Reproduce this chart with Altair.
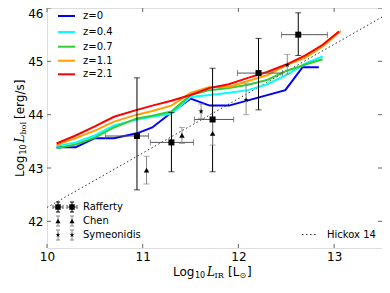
import altair as alt
import pandas as pd

# ---------------- data ----------------
z_labels = ["z=0", "z=0.4", "z=0.7", "z=1.1", "z=2.1"]
z_colors = ["#0000ff", "#00ffff", "#33cc33", "#ffa000", "#ff0000"]

z0_x = [10.1, 10.3, 10.5, 10.7, 10.94, 11.1, 11.3, 11.5, 11.7, 11.9, 12.49, 12.67, 12.84]
z0_y = [43.39, 43.39, 43.56, 43.56, 43.65, 43.76, 44.04, 44.30, 44.17, 44.17, 44.46, 44.89, 44.89]

z04_x = [10.1, 10.3, 10.5, 10.7, 10.94, 11.1, 11.3, 11.5, 11.7, 11.9, 12.1, 12.3, 12.5, 12.7, 12.88]
z04_y = [43.41, 43.48, 43.61, 43.80, 43.91, 43.96, 44.02, 44.33, 44.37, 44.41, 44.46, 44.57, 44.74, 44.96, 45.09]

z07_x = [10.1, 10.3, 10.5, 10.7, 10.94, 11.1, 11.3, 11.5, 11.7, 11.9, 12.1, 12.3, 12.5, 12.7, 12.88]
z07_y = [43.37, 43.44, 43.57, 43.76, 43.93, 43.98, 44.06, 44.37, 44.46, 44.50, 44.56, 44.65, 44.82, 44.94, 45.04]

z11_x = [10.1, 10.3, 10.5, 10.7, 10.94, 11.1, 11.3, 11.5, 11.7, 11.9, 12.1, 12.3, 12.5, 12.7, 12.88, 13.07]
z11_y = [43.43, 43.56, 43.70, 43.87, 44.00, 44.07, 44.17, 44.41, 44.52, 44.52, 44.63, 44.74, 44.93, 45.07, 45.28, 45.57]

z21_x = [10.1, 10.3, 10.5, 10.7, 10.94, 11.1, 11.3, 11.5, 11.7, 11.9, 12.1, 12.3, 12.5, 12.7, 12.88, 13.05]
z21_y = [43.46, 43.61, 43.78, 43.96, 44.09, 44.17, 44.26, 44.37, 44.50, 44.57, 44.69, 44.80, 44.94, 45.11, 45.31, 45.56]

raf_x = [10.94, 11.30, 11.73, 12.21, 12.625]
raf_y = [43.60, 43.48, 43.91, 44.78, 45.50]
raf_xlo = [10.61, 11.08, 11.54, 11.99, 12.45]
raf_xhi = [11.06, 11.53, 11.95, 12.46, 12.93]
raf_ylo = [42.59, 42.93, 42.93, 44.09, 45.11]
raf_yhi = [44.69, 44.04, 44.87, 45.43, 45.91]

chen_x = [11.04, 11.41, 11.73]
chen_y = [42.96, 43.61, 43.65]
chen_ylo = [42.70, 43.46, 43.43]
chen_yhi = [43.22, 43.76, 43.87]

sym_x = [11.61, 12.08, 12.51]
sym_y = [44.06, 44.28, 44.93]
sym_ylo = [43.93, 44.00, 44.76]
sym_yhi = [44.20, 44.59, 45.13]

hick_x = [10.0, 13.5]
hick_y = [42.26, 45.83]

x_ticks = [10, 11, 12, 13]
y_ticks = [42, 43, 44, 45, 46]

# ---------------- frames ----------------
W, H = 335, 240
rows = []
for lab, xs_, ys_ in zip(z_labels, [z0_x, z04_x, z07_x, z11_x, z21_x],
                         [z0_y, z04_y, z07_y, z11_y, z21_y]):
    for i, (a, b) in enumerate(zip(xs_, ys_)):
        rows.append({"z": lab, "x": a, "y": b, "i": i})
df_lines = pd.DataFrame(rows)
df_raf = pd.DataFrame({"x": raf_x, "y": raf_y, "xlo": raf_xlo, "xhi": raf_xhi,
                       "ylo": raf_ylo, "yhi": raf_yhi})
df_chen = pd.DataFrame({"x": chen_x, "y": chen_y, "ylo": chen_ylo, "yhi": chen_yhi})
df_sym = pd.DataFrame({"x": sym_x, "y": sym_y, "ylo": sym_ylo, "yhi": sym_yhi})
df_hick = pd.DataFrame({"x": hick_x, "y": hick_y})
df_xt = pd.DataFrame({"t": x_ticks})
df_yt = pd.DataFrame({"t": y_ticks})
one = pd.DataFrame({"k": [0]})

STAR = ("M0,-1L0.224,-0.309L0.951,-0.309L0.362,0.118L0.588,0.809L0,0.382"
        "L-0.588,0.809L-0.362,0.118L-0.951,-0.309L-0.224,-0.309Z")

xs = alt.Scale(domain=[10, 13.5], nice=False, zero=False)
ys = alt.Scale(domain=[41.5, 46], nice=False, zero=False)
xaxis = alt.Axis(values=x_ticks, ticks=False, domain=False, grid=False, labelFontSize=12,
                 labelFont="DejaVu Sans", labelColor="black", labelPadding=3,
                 labelFlush=False, format="d", title=None)
yaxis = alt.Axis(values=y_ticks, ticks=False, domain=False, grid=False, labelFontSize=12,
                 labelFont="DejaVu Sans", labelColor="black", labelPadding=4,
                 labelFlush=True, format="d", title=None)


def X(f):
    return alt.X(f + ":Q", scale=xs, axis=xaxis)


def Y(f):
    return alt.Y(f + ":Q", scale=ys, axis=yaxis)


layers = []
# Hickox relation
layers.append(alt.Chart(df_hick).mark_line(color="#333333", strokeWidth=1,
                                            strokeDash=[1.5, 2.5]).encode(x=X("x"), y=Y("y")))
# model lines
layers.append(alt.Chart(df_lines).mark_line(strokeWidth=2, clip=True).encode(
    x=X("x"), y=Y("y"),
    color=alt.Color("z:N", scale=alt.Scale(domain=z_labels, range=z_colors), legend=None),
    order="i:Q"))


def vbars(df, color, cap=6):
    return [
        alt.Chart(df).mark_rule(color=color, strokeWidth=1).encode(x=X("x"), y=Y("ylo"), y2=alt.Y2("yhi")),
        alt.Chart(df).mark_tick(orient="horizontal", size=cap, thickness=1, color=color).encode(x=X("x"), y=Y("ylo")),
        alt.Chart(df).mark_tick(orient="horizontal", size=cap, thickness=1, color=color).encode(x=X("x"), y=Y("yhi")),
    ]


layers += vbars(df_raf, "black")
layers += [
    alt.Chart(df_raf).mark_rule(color="#555555", strokeWidth=1).encode(x=X("xlo"), x2=alt.X2("xhi"), y=Y("y")),
    alt.Chart(df_raf).mark_tick(orient="vertical", size=6, thickness=1, color="#555555").encode(x=X("xlo"), y=Y("y")),
    alt.Chart(df_raf).mark_tick(orient="vertical", size=6, thickness=1, color="#555555").encode(x=X("xhi"), y=Y("y")),
]
layers += vbars(df_chen, "#888888")
layers += vbars(df_sym, "#888888")
layers.append(alt.Chart(df_raf).mark_point(shape="square", filled=True, size=36, color="black",
                                           opacity=1).encode(x=X("x"), y=Y("y")))
layers.append(alt.Chart(df_chen).mark_point(shape="triangle-up", filled=True, size=30, color="black",
                                            opacity=1).encode(x=X("x"), y=Y("y")))
layers.append(alt.Chart(df_sym).mark_point(shape=STAR, filled=True, size=30, color="black",
                                           opacity=1).encode(x=X("x"), y=Y("y")))

# inward ticks on all four sides
TC = "#666666"
TL = 4
layers.append(alt.Chart(df_xt).mark_rule(color=TC).encode(x=X("t"), y=alt.value(H), y2=alt.value(H - TL)))
layers.append(alt.Chart(df_xt).mark_rule(color=TC).encode(x=X("t"), y=alt.value(0), y2=alt.value(TL)))
layers.append(alt.Chart(df_yt).mark_rule(color=TC).encode(y=Y("t"), x=alt.value(0), x2=alt.value(TL)))
layers.append(alt.Chart(df_yt).mark_rule(color=TC).encode(y=Y("t"), x=alt.value(W), x2=alt.value(W - TL)))


# ---------------- helpers for legend / titles ----------------
def txt(s, x, y, size=12, font="DejaVu Sans", style="normal", angle=0):
    return alt.Chart(one).mark_text(text=s, fontSize=size, font=font, fontStyle=style, angle=angle,
                                    align="left", baseline="middle", color="black").encode(
        x=alt.value(x), y=alt.value(y))


def hseg(x1, x2, y, color, w=1, dash=None):
    kw = dict(color=color, strokeWidth=w)
    if dash:
        kw["strokeDash"] = dash
    return alt.Chart(one).mark_rule(**kw).encode(x=alt.value(x1), x2=alt.value(x2), y=alt.value(y))


def vseg(x, y1, y2, color, w=1):
    return alt.Chart(one).mark_rule(color=color, strokeWidth=w).encode(
        x=alt.value(x), y=alt.value(y1), y2=alt.value(y2))


def pt(x, y, shape, size):
    return alt.Chart(one).mark_point(shape=shape, filled=True, size=size, color="black",
                                     opacity=1).encode(x=alt.value(x), y=alt.value(y))


# line legend (top-left)
leg_y = [8, 24, 38.7, 52.7, 66.3]
for lab, col, yy in zip(z_labels, z_colors, leg_y):
    layers.append(hseg(11, 28, yy, col, 2))
    layers.append(txt(lab, 36, yy, size=10))

# data legend (bottom-left)
for px in [11, 25]:
    yy = 199
    layers += [hseg(px - 5, px + 5, yy, "#555555"), vseg(px - 5, yy - 2, yy + 2, "#555555"),
               vseg(px + 5, yy - 2, yy + 2, "#555555"), vseg(px, yy - 5, yy + 5, "black"),
               hseg(px - 2, px + 2, yy - 5, "black"), hseg(px - 2, px + 2, yy + 5, "black"),
               pt(px, yy, "square", 30)]
    for yy, shp in [(213, "triangle-up"), (227, STAR)]:
        layers += [vseg(px, yy - 5, yy + 5, "#888888"), hseg(px - 2, px + 2, yy - 5, "#888888"),
                   hseg(px - 2, px + 2, yy + 5, "#888888"), pt(px, yy, shp, 26)]
layers.append(txt("Rafferty", 36, 199, size=10))
layers.append(txt("Chen", 36, 213, size=10))
layers.append(txt("Symeonidis", 36, 227, size=10))

# Hickox legend (bottom-right)
layers.append(hseg(255, 269, 226.5, "#333333", 1, [1.5, 2.5]))
layers.append(txt("Hickox 14", 280, 226.5, size=10))

# x title: Log10 L_IR [L_sun]
TY = 264
layers += [
    txt("Log", 126, TY),
    txt("10", 148, TY + 4, size=8),
    txt("L", 160, TY, font="DejaVu Serif", style="italic"),
    txt("IR", 167.5, TY + 4, size=8, font="DejaVu Serif"),
    txt("[L", 181, TY),
    txt("\u2299", 192.5, TY + 4, size=8),
    txt("]", 200, TY),
]
# y title: Log10 L_bol [erg/s]
TX = -27
layers += [
    txt("Log", TX, 169, angle=270),
    txt("10", TX + 4, 146.5, size=8, angle=270),
    txt("L", TX, 134.5, font="DejaVu Serif", style="italic", angle=270),
    txt("bol", TX + 4, 126.5, size=8, font="DejaVu Serif", angle=270),
    txt("[erg/s]", TX, 111, angle=270),
]

chart = alt.layer(*layers).properties(
    width=W, height=H,
    autosize=alt.AutoSizeParams(type="none"),
    padding={"left": 39, "top": 0, "right": 0, "bottom": 37},
).configure_view(stroke="#666666", strokeWidth=1.2).configure(background="white")

chart.save("out.html", embed_options={"renderer": "svg", "actions": False})
